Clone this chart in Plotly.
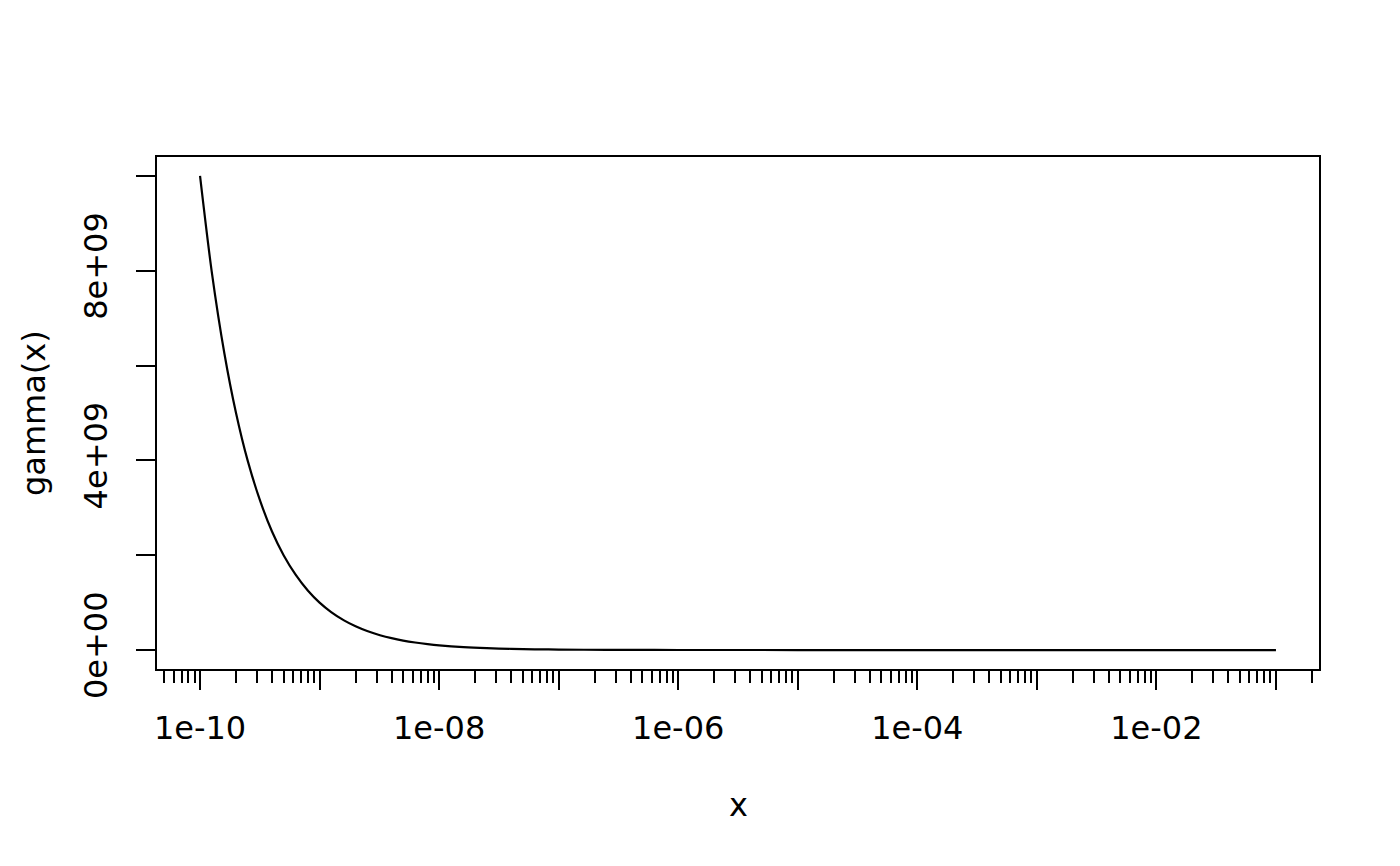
import plotly.graph_objects as go

# Curve values (x on log scale, y = gamma(x))
x_vals = [1e-10, 1.25e-10, 1.6e-10, 2e-10, 2.5e-10, 3.2e-10, 4e-10, 5e-10, 6.3e-10, 8e-10,
          1e-9, 1.25e-9, 1.6e-9, 2e-9, 2.5e-9, 3.2e-9, 4e-9, 5e-9, 6.3e-9, 8e-9,
          1e-8, 1.6e-8, 2.5e-8, 4e-8, 6.3e-8,
          1e-7, 2.5e-7, 6.3e-7,
          1e-6, 1e-5, 1e-4, 1e-3, 1e-2, 1e-1]
y_vals = [1.0e10, 8.0e9, 6.25e9, 5.0e9, 4.0e9, 3.13e9, 2.5e9, 2.0e9, 1.59e9, 1.25e9,
          1.0e9, 8.0e8, 6.25e8, 5.0e8, 4.0e8, 3.13e8, 2.5e8, 2.0e8, 1.59e8, 1.25e8,
          1.0e8, 6.25e7, 4.0e7, 2.5e7, 1.59e7,
          1.0e7, 4.0e6, 1.6e6,
          1.0e6, 1.0e5, 1.0e4, 999.0, 99.4, 9.5]

# Axis tick definitions
x_major = [1e-11, 1e-10, 1e-9, 1e-8, 1e-7, 1e-6, 1e-5, 1e-4, 1e-3, 1e-2, 1e-1, 1.0]
x_major_text = ["", "1e-10", "", "1e-08", "", "1e-06", "", "1e-04", "", "1e-02", "", ""]
x_minor = [m * d for d in [1e-11, 1e-10, 1e-9, 1e-8, 1e-7, 1e-6, 1e-5, 1e-4, 1e-3, 1e-2, 1e-1]
           for m in range(2, 10)]
y_ticks = [0, 2e9, 4e9, 6e9, 8e9, 1e10]
y_tick_text = ["0e+00", "", "4e+09", "", "8e+09", ""]

FONT = "DejaVu Sans"
FS = 32

fig = go.Figure()
fig.add_trace(go.Scatter(x=x_vals, y=y_vals, mode="lines",
                         line=dict(color="black", width=2.2, shape="spline", smoothing=0.8),
                         showlegend=False, hoverinfo="skip"))

fig.update_layout(
    width=1392, height=858,
    margin=dict(l=149, r=81, t=149, b=197),
    paper_bgcolor="white", plot_bgcolor="white",
    font=dict(family=FONT, size=FS, color="black"),
    showlegend=False,
)

fig.update_xaxes(
    type="log", range=[-10.36, -0.64],
    tickmode="array", tickvals=x_major, ticktext=x_major_text,
    ticks="outside", ticklen=19, tickwidth=2, tickcolor="black",
    showline=True, linecolor="black", linewidth=2, mirror=True,
    showgrid=False, zeroline=False,
    tickfont=dict(family=FONT, size=FS, color="black"),
    ticklabelstandoff=11,
    minor=dict(tickmode="array", tickvals=x_minor, ticks="outside",
               ticklen=12, tickwidth=2, tickcolor="black", showgrid=False),
)

fig.update_yaxes(
    range=[-4e8, 1.04e10],
    tickmode="array", tickvals=y_ticks, ticktext=y_tick_text,
    ticks="outside", ticklen=19, tickwidth=2, tickcolor="black",
    showline=True, linecolor="black", linewidth=2, mirror=True,
    showgrid=False, zeroline=False, tickangle=-90,
    tickfont=dict(family=FONT, size=FS, color="black"),
    ticklabelstandoff=16,
)

fig.add_annotation(text="x", xref="paper", yref="paper", x=0.5, y=0,
                   yshift=-136, showarrow=False, yanchor="middle",
                   font=dict(family=FONT, size=FS, color="black"))
fig.add_annotation(text="gamma(x)", xref="paper", yref="paper", x=0, y=0.5,
                   xshift=-123, showarrow=False, xanchor="center", textangle=-90,
                   font=dict(family=FONT, size=FS, color="black"))

fig.write_html("out.html")
